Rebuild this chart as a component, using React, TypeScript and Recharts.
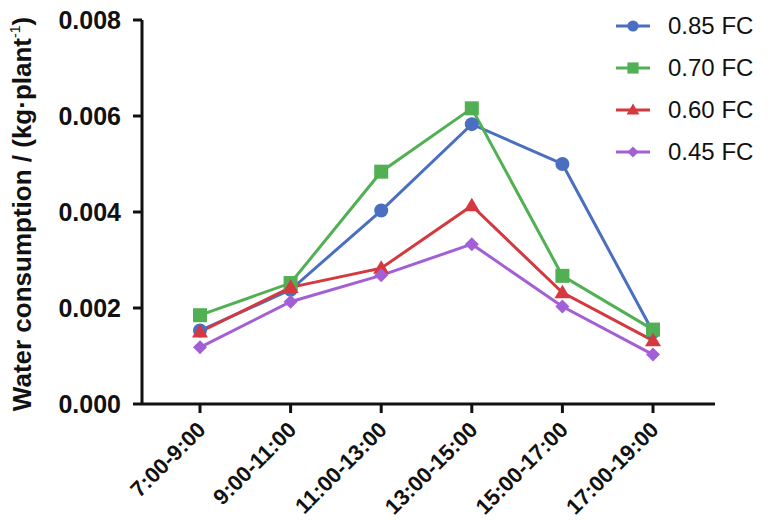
import React from 'react';
import { LineChart, Line, XAxis, YAxis } from 'recharts';

// --- DATA ---
const periods = ['7:00-9:00', '9:00-11:00', '11:00-13:00', '13:00-15:00', '15:00-17:00', '17:00-19:00'];
const fc085 = [0.00153, 0.00238, 0.00403, 0.00583, 0.005, 0.0015];
const fc070 = [0.00185, 0.00252, 0.00484, 0.00616, 0.00267, 0.00155];
const fc060 = [0.0015, 0.00243, 0.00283, 0.00413, 0.00232, 0.00132];
const fc045 = [0.00118, 0.00213, 0.00268, 0.00333, 0.00203, 0.00103];
const yTicks = [0, 0.002, 0.004, 0.006, 0.008];

type Shape = 'circle' | 'square' | 'triangle' | 'diamond';

const seriesList: { key: string; label: string; color: string; shape: Shape; values: number[] }[] = [
  { key: 'fc085', label: '0.85 FC', color: '#4a6fc1', shape: 'circle', values: fc085 },
  { key: 'fc070', label: '0.70 FC', color: '#52b054', shape: 'square', values: fc070 },
  { key: 'fc060', label: '0.60 FC', color: '#d3393f', shape: 'triangle', values: fc060 },
  { key: 'fc045', label: '0.45 FC', color: '#a35fd6', shape: 'diamond', values: fc045 },
];

const chartData = periods.map((p, i) => {
  const row: { [k: string]: any } = { period: p };
  seriesList.forEach(s => { row[s.key] = s.values[i]; });
  return row;
});

const FONT = 'Arial, "Liberation Sans", sans-serif';

const Marker = ({ cx, cy, shape, color, size = 1 }: { cx: number; cy: number; shape: Shape; color: string; size?: number }) => {
  if (cx == null || cy == null) return null;
  switch (shape) {
    case 'circle':
      return <circle cx={cx} cy={cy} r={7 * size} fill={color} />;
    case 'square':
      return <rect x={cx - 7 * size} y={cy - 7 * size} width={14 * size} height={14 * size} fill={color} />;
    case 'triangle': {
      const r = 8 * size;
      return <polygon points={`${cx},${cy - r} ${cx + r},${cy + r * 0.7} ${cx - r},${cy + r * 0.7}`} fill={color} />;
    }
    default: {
      const r = 7 * size;
      return <polygon points={`${cx},${cy - r} ${cx + r},${cy} ${cx},${cy + r} ${cx - r},${cy}`} fill={color} />;
    }
  }
};

const XTick = ({ x, y, payload }: any) => (
  <text
    x={x + 7}
    y={y + 16}
    transform={`rotate(-45, ${x + 7}, ${y + 16})`}
    textAnchor="end"
    fontFamily={FONT}
    fontWeight="bold"
    fontSize={22}
    fill="#111"
  >
    {payload.value}
  </text>
);

const YLabel = () => (
  <text
    transform="translate(31, 214) rotate(-90)"
    textAnchor="middle"
    fontFamily={FONT}
    fontWeight="bold"
    fontSize={26}
    fill="#111"
  >
    Water consumption / (kg·plant
    <tspan fontSize={14} fontWeight="normal" dy={-11}>-1</tspan>
    <tspan dy={11}>)</tspan>
  </text>
);

const LegendBox = () => (
  <div style={{ position: 'absolute', left: 612, top: 5, fontFamily: FONT }}>
    {seriesList.map(s => (
      <div key={s.key} style={{ display: 'flex', alignItems: 'center', height: 42 }}>
        <svg width={42} height={20}>
          <line x1={4} y1={10} x2={38} y2={10} stroke={s.color} strokeWidth={3} />
          <Marker cx={21} cy={10} shape={s.shape} color={s.color} size={0.8} />
        </svg>
        <span style={{ marginLeft: 14, fontSize: 24, color: '#111' }}>{s.label}</span>
      </div>
    ))}
  </div>
);

const App = () => (
  <div style={{ position: 'absolute', left: 0, top: 0, width: 771, height: 520, background: '#fff' }}>
    <LineChart width={771} height={520} data={chartData} margin={{ top: 20, right: 56, bottom: 0, left: 0 }}>
      <XAxis
        dataKey="period"
        height={116}
        padding={{ left: 58, right: 62 }}
        axisLine={{ stroke: '#111', strokeWidth: 3 }}
        tickLine={{ stroke: '#111', strokeWidth: 3 }}
        tickSize={9}
        tick={<XTick />}
        interval={0}
      />
      <YAxis
        width={142}
        domain={[0, 0.008]}
        ticks={yTicks}
        tickFormatter={(v: number) => v.toFixed(3)}
        axisLine={{ stroke: '#111', strokeWidth: 3 }}
        tickLine={{ stroke: '#111', strokeWidth: 3 }}
        tickSize={9}
        tick={{ fontFamily: FONT, fontWeight: 'bold', fontSize: 25, fill: '#111', dx: -10 }}
        label={{ content: () => <YLabel /> }}
      />
      {seriesList.map(s => (
        <Line
          key={s.key}
          dataKey={s.key}
          name={s.label}
          stroke={s.color}
          strokeWidth={3}
          isAnimationActive={false}
          dot={(props: any) => <Marker key={`${s.key}-${props.index}`} cx={props.cx} cy={props.cy} shape={s.shape} color={s.color} />}
          activeDot={false}
        />
      ))}
    </LineChart>
    <LegendBox />
  </div>
);

export default App;
